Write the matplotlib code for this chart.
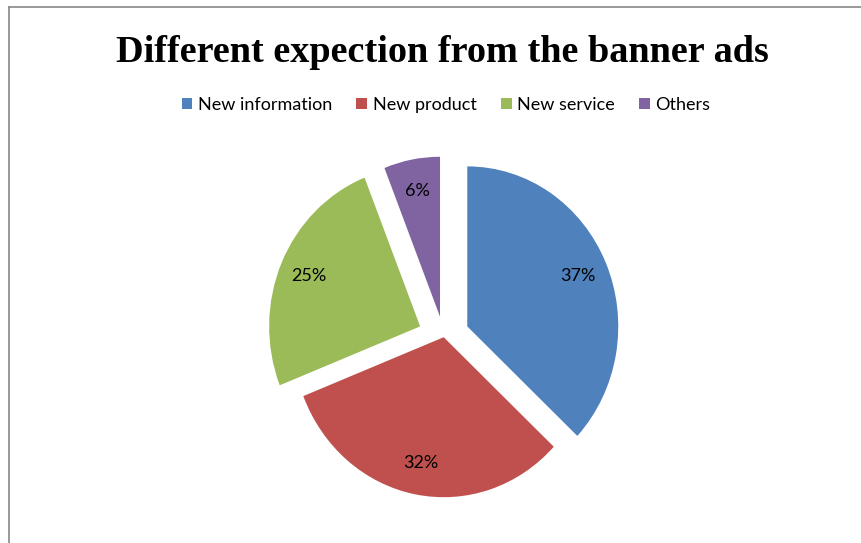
import matplotlib.pyplot as plt
from matplotlib.lines import Line2D
from matplotlib.patches import Patch

# 横幅广告期望调查结果
categories = ['New information', 'New product', 'New service', 'Others']
shares = [37, 32, 25, 6]
colors = ['#4F81BD', '#C0504D', '#9BBB59', '#8064A2']
explode = [0.17, 0.0, 0.17, 0.13]

W, H = 861, 543
fig = plt.figure(figsize=(W / 100, H / 100), dpi=100)

# 饼图中心与半径（像素）
cx, cy = 443.7, 337.2
rx, ry = 151, 160
ax = fig.add_axes([(cx - 1.25 * rx) / W, (H - cy - 1.25 * ry) / H,
                   2.5 * rx / W, 2.5 * ry / H])
wedges, texts, autotexts = ax.pie(shares, colors=colors, explode=explode,
                                  startangle=90, counterclock=False,
                                  autopct='%d%%', pctdistance=0.8,
                                  textprops={'family': 'Lato', 'size': 13,
                                             'color': 'black'})
ax.set_aspect('auto')
ax.set_xlim(-1.25, 1.25)
ax.set_ylim(-1.25, 1.25)

fig.text(442 / W, 1 - 52 / H, 'Different expection from the banner ads',
         ha='center', va='center', family='Liberation Serif',
         weight='bold', size=27.5)

handles = [Patch(facecolor=c, edgecolor='none') for c in colors]
fig.legend(handles, categories, loc='center', bbox_to_anchor=(446 / W, 1 - 105 / H),
           ncol=4, frameon=False, prop={'family': 'Lato', 'size': 13},
           handlelength=0.6, handleheight=0.6, handletextpad=0.3,
           columnspacing=1.35)

# 外框
fig.add_artist(Line2D([9 / W, 1], [1 - 7 / H, 1 - 7 / H], color='#878787', lw=1.2))
fig.add_artist(Line2D([9 / W, 9 / W], [0, 1 - 7 / H], color='#878787', lw=1.2))

plt.savefig('out.png', dpi=100)
